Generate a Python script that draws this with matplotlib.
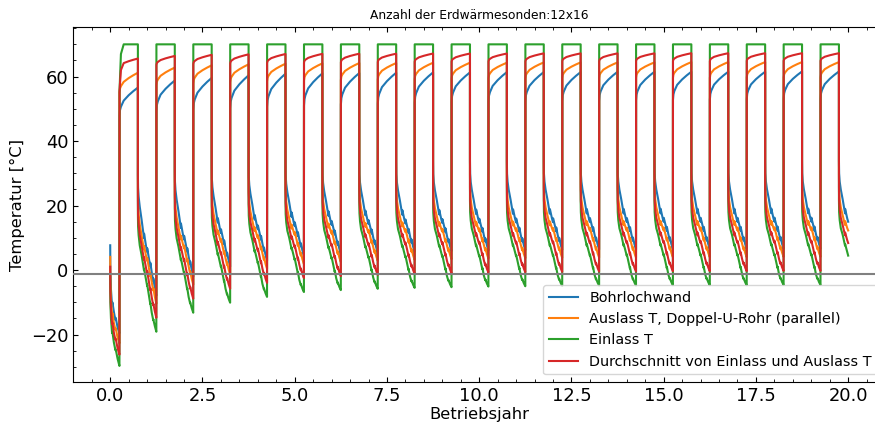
import numpy as np
import matplotlib
matplotlib.use("Agg")
import matplotlib.pyplot as plt
from matplotlib.ticker import MultipleLocator, AutoMinorLocator

# ---------------- data ----------------
title = "Anzahl der Erdwärmesonden:12x16"
labels = ["Bohrlochwand", "Auslass T, Doppel-U-Rohr (parallel)", "Einlass T",
          "Durchschnitt von Einlass und Auslass T"]
freeze_line = -1.3
n_years = 20

# first (partial) winter, t = 0 .. 0.25 a
first_t = [0.0, 0.003, 0.02, 0.05, 0.06, 0.1, 0.14, 0.15, 0.2, 0.25]
first_wall = [7.7, 0.0, -6.0, -11.0, -10.0, -13.0, -15.5, -14.8, -17.8, -19.6]
first_outlet = [4.1, -3.0, -9.0, -14.0, -13.3, -16.5, -18.5, -18.0, -21.0, -22.7]
first_inlet = [-2.0, -10.0, -15.0, -19.5, -19.2, -22.5, -24.8, -24.6, -27.5, -29.7]

# summer (injection) phase k+0.25 .. k+0.75, inlet fixed at 70 °C
inlet_summer = 70.0
first_inlet_ramp_tau = [0.0, 0.1]
first_inlet_ramp_val = [55.0, 70.0]
summer_tau = [0.004, 0.03, 0.08, 0.23, 0.5, 0.75, 1.0]
summer_shape = [-0.25, 0.0, 0.15, 0.42, 0.66, 0.84, 1.0]
wall_summer_start = [49.6, 51.2, 51.7, 52.2, 52.7, 53.0, 53.3, 53.5, 53.7, 53.9,
                     54.0, 54.1, 54.2, 54.3, 54.4, 54.5, 54.6, 54.7, 54.8, 54.8]
wall_summer_end = [56.6, 58.8, 59.6, 60.4, 60.9, 61.0, 61.1, 61.2, 61.3, 61.3,
                   61.4, 61.4, 61.4, 61.5, 61.5, 61.5, 61.5, 61.5, 61.6, 61.6]
outlet_summer_start = [56.3, 58.4, 59.0, 59.3, 59.6, 59.8, 60.0, 60.1, 60.2, 60.3,
                       60.4, 60.4, 60.5, 60.5, 60.6, 60.6, 60.6, 60.7, 60.7, 60.7]
outlet_summer_end = [61.2, 62.8, 63.5, 63.8, 64.0, 64.1, 64.2, 64.2, 64.3, 64.3,
                     64.3, 64.4, 64.4, 64.4, 64.4, 64.5, 64.5, 64.5, 64.5, 64.5]

# winter (extraction) phase k+0.75 .. k+1.25, steady shape (with monthly load steps)
winter_tau = [0.0, 0.01, 0.04, 0.1, 0.2, 0.3, 0.33, 0.335, 0.45, 0.5,
              0.5, 0.505, 0.6, 0.67, 0.675, 0.75, 0.83, 0.835, 0.92, 1.0]
wall_winter = [34.0, 30.0, 27.5, 25.0, 22.0, 18.5, 17.6, 19.0, 16.0, 15.0,
               15.0, 16.2, 14.0, 12.2, 13.4, 11.2, 9.2, 10.2, 8.0, 6.5]
outlet_winter = [30.0, 25.0, 22.0, 19.5, 17.0, 14.6, 14.0, 15.2, 13.0, 12.3,
                 12.3, 13.2, 11.0, 9.2, 10.1, 8.2, 6.4, 7.2, 5.3, 4.0]
inlet_winter = [22.0, 18.0, 15.5, 13.0, 11.0, 8.3, 7.6, 8.1, 5.5, 4.5,
                4.5, 4.9, 2.5, 0.6, 1.0, -1.3, -2.8, -2.5, -3.8, -4.7]
# inlet minimum at the end of each full winter (ending at k+1.25)
inlet_winter_min = [-19.1, -13.2, -10.1, -8.3, -6.8, -6.2, -5.8, -5.5, -5.3, -5.1,
                    -5.0, -4.9, -4.8, -4.8, -4.7, -4.7, -4.7, -4.6, -4.6]

# ---------------- assemble the series ----------------
t_all = list(first_t)
wall = list(first_wall)
outlet = list(first_outlet)
inlet = list(first_inlet)

s_tau = np.array(summer_tau)
s_shape = np.array(summer_shape)
w_tau = np.array(winter_tau)
for k in range(n_years):
    ts = k + 0.25 + 0.5 * s_tau
    wb = wall_summer_start[k] + (wall_summer_end[k] - wall_summer_start[k]) * s_shape
    ob = outlet_summer_start[k] + (outlet_summer_end[k] - outlet_summer_start[k]) * s_shape
    if k == 0:
        ib = np.interp(s_tau, first_inlet_ramp_tau, first_inlet_ramp_val)
    else:
        ib = np.full_like(s_tau, inlet_summer)
    t_all += list(ts); wall += list(wb); outlet += list(ob); inlet += list(ib)

    if k < n_years - 1:
        mask = np.ones_like(w_tau, dtype=bool)
        d = inlet_winter_min[k] - inlet_winter[-1]
    else:
        mask = np.arange(len(w_tau)) <= 9
        d = 0.0
    tw = w_tau[mask]
    off = d * (0.3 + 0.7 * tw)
    t_all += list(k + 0.75 + 0.5 * tw)
    wall += list(np.array(wall_winter)[mask] + off)
    outlet += list(np.array(outlet_winter)[mask] + off)
    inlet += list(np.array(inlet_winter)[mask] + off)

t_all = np.array(t_all)
wall = np.array(wall)
outlet = np.array(outlet)
inlet = np.array(inlet)
mean = (inlet + outlet) / 2.0

# ---------------- plot ----------------
fig = plt.figure(figsize=(8.75, 4.23), dpi=100)
ax = fig.add_axes([0.0838, 0.0976, 0.9277, 0.838])
ax.plot(t_all, wall, color="C0", lw=1.5, label=labels[0])
ax.plot(t_all, outlet, color="C1", lw=1.5, label=labels[1])
ax.plot(t_all, inlet, color="C2", lw=1.5, label=labels[2])
ax.plot(t_all, mean, color="C3", lw=1.5, label=labels[3])
ax.axhline(freeze_line, color="gray", lw=1.5, zorder=5)

ax.set_xlim(-1.0, 21.0)
ax.set_ylim(-34.6, 75.3)
ax.xaxis.set_major_locator(MultipleLocator(2.5))
ax.yaxis.set_major_locator(MultipleLocator(20))
ax.xaxis.set_minor_locator(AutoMinorLocator())
ax.yaxis.set_minor_locator(AutoMinorLocator())
ax.tick_params(which="both", direction="in", top=True, right=True, labelsize=12.9)
ax.set_xlabel("Betriebsjahr", fontsize=11.8, labelpad=2)
ax.set_ylabel("Temperatur [°C]", fontsize=11.8)
ax.set_title(title, fontsize=8.8)
ax.legend(loc="lower right", fontsize=10.4)

fig.savefig("out.png", dpi=100)
